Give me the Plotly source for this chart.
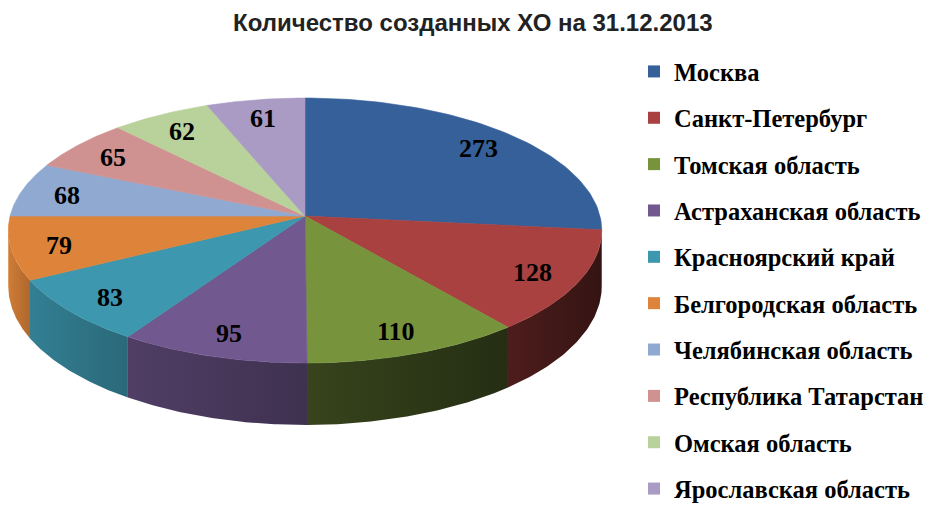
import numpy as np
import plotly.graph_objects as go

regions = ["Москва", "Санкт-Петербург", "Томская область", "Астраханская область",
           "Красноярский край", "Белгородская область", "Челябинская область",
           "Республика Татарстан", "Омская область", "Ярославская область"]
counts = [273, 128, 110, 95, 83, 79, 68, 65, 62, 61]
colors = ["#36609A", "#A8413F", "#77933C", "#71588F", "#3D97AE",
          "#DD843A", "#8FA9D1", "#D09291", "#B9D19A", "#A99BC3"]
title = "Количество созданных ХО на 31.12.2013"

W, H = 934, 505
OFF = 8  # default page body margin

# ---- perspective projection of a tilted 3D disc (pixel space) ----
CX, A, B, D, C, E = 305.0, -980.1, 10929.0, 9.137, 2695.0, 504.0


def proj(theta_deg, rho=1.0, depth=0.0):
    t = np.radians(theta_deg)
    X = rho * np.sin(t)
    Z = -rho * np.cos(t)
    w = 1.0 / (D - Z)
    return CX + C * X * w, A + (B + depth * E) * w


def shade(hexcol, f):
    h = hexcol.lstrip("#")
    r, g, b = (int(h[i:i + 2], 16) for i in (0, 2, 4))
    return "rgb(%d,%d,%d)" % (min(r * f, 255), min(g * f, 255), min(b * f, 255))


total = float(sum(counts))
edges = np.concatenate([[0.0], np.cumsum(counts) / total * 360.0])
vis_lo = np.degrees(np.arccos(-1.0 / D))
vis_hi = 360.0 - vis_lo

fig = go.Figure()

# side walls
for i, col in enumerate(colors):
    a, b = max(edges[i], vis_lo), min(edges[i + 1], vis_hi)
    if b <= a:
        continue
    th = np.linspace(a, b, 60)
    xt, yt = proj(th)
    xb, yb = proj(th[::-1], depth=1.0)
    xs = np.concatenate([xt, xb, xt[:1]])
    ys = np.concatenate([yt, yb, yt[:1]])
    mid = (a + b) / 2
    u = np.clip((mid - 160.0) / (vis_hi - 160.0), 0, 1) ** 0.7
    f = 0.38 + 0.52 * u
    fig.add_trace(go.Scatter(
        x=xs, y=ys, mode="lines", fill="toself",
        line=dict(width=0, color=shade(col, f)),
        fillcolor=shade(col, f),
        fillgradient=dict(type="horizontal",
                          colorscale=[[0, shade(col, min(f + 0.08, 1.0))],
                                      [1, shade(col, max(f - 0.07, 0.1))]],
                          start=float(xs.min()), stop=float(xs.max())),
        hoverinfo="skip", showlegend=False))

# top faces
cx0, cy0 = proj(0.0, rho=0.0)
for i, col in enumerate(colors):
    th = np.linspace(edges[i], edges[i + 1], 80)
    xa, ya = proj(th)
    fig.add_trace(go.Scatter(
        x=np.concatenate([[cx0], xa, [cx0]]),
        y=np.concatenate([[cy0], ya, [cy0]]),
        mode="lines", fill="toself", line=dict(width=0.6, color=col),
        fillcolor=col, hoverinfo="skip", showlegend=False))

# legend entries
for i, (name, col) in enumerate(zip(regions, colors)):
    fig.add_trace(go.Scatter(
        x=[None], y=[None], mode="markers", name=name, legendgroup=str(i),
        marker=dict(symbol="square", size=10, color=col)))

# value labels
for i, v in enumerate(counts):
    lx, ly = proj((edges[i] + edges[i + 1]) / 2, rho=0.84)
    fig.add_annotation(x=float(lx), y=float(ly) + 2, text=str(v), showarrow=False,
                       font=dict(family="Liberation Serif", size=26,
                                 color="black", weight="bold"))

fig.add_annotation(xref="paper", yref="paper", x=(473 - OFF) / W,
                   y=1 - (22 - OFF) / H,
                   yanchor="middle", text=title, showarrow=False,
                   font=dict(family="Liberation Sans", size=24,
                             color="#222222", weight="bold"))

fig.update_layout(
    width=W, height=H, margin=dict(l=0, r=0, t=0, b=0),
    paper_bgcolor="white", plot_bgcolor="white",
    xaxis=dict(range=[OFF, W + OFF], visible=False, fixedrange=True),
    yaxis=dict(range=[H + OFF, OFF], visible=False, fixedrange=True),
    legend=dict(x=(634 - OFF) / W, y=1 - (49 - OFF) / H,
                xanchor="left", yanchor="top",
                tracegroupgap=11.5, itemsizing="constant",
                font=dict(family="Liberation Serif", size=24.5, color="black",
                          weight="bold"),
                bgcolor="rgba(0,0,0,0)"),
)

fig.write_html("out.html")
